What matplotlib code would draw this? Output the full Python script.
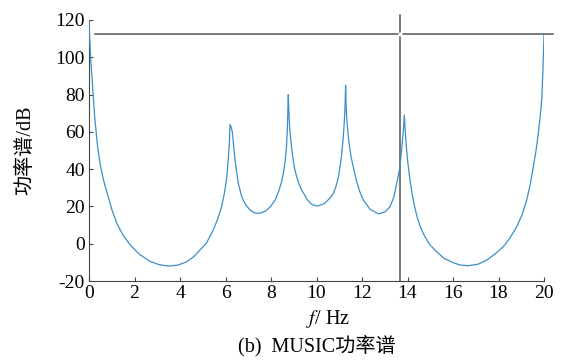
import matplotlib
matplotlib.use("Agg")
import matplotlib.pyplot as plt

# ---- data ----
freq = [0.00, 0.03, 0.07, 0.15, 0.25, 0.37, 0.50, 0.64, 0.78, 1.00, 1.22, 1.50, 1.80, 2.20, 2.68,
        3.10, 3.49, 3.90, 4.29, 4.60, 4.88, 5.17, 5.46, 5.65, 5.83, 5.95, 6.05, 6.12, 6.17, 6.20,
        6.25, 6.30, 6.36, 6.42, 6.47, 6.57, 6.72, 6.88, 7.05, 7.20, 7.37, 7.55, 7.74, 7.95, 8.18,
        8.35, 8.47, 8.56, 8.63, 8.68, 8.72, 8.76, 8.79, 8.82, 8.86, 8.91, 8.97, 9.05, 9.15, 9.25,
        9.35, 9.60, 9.80, 10.05, 10.35, 10.62, 10.74, 10.85, 10.95, 11.03, 11.10, 11.16, 11.21, 11.25, 11.28,
        11.30, 11.33, 11.37, 11.43, 11.52, 11.62, 11.75, 11.90, 12.06, 12.35, 12.72, 13.00, 13.23, 13.40, 13.52,
        13.67, 13.78, 13.82, 13.86, 13.91, 13.96, 14.02, 14.10, 14.20, 14.30, 14.42, 14.55, 14.70, 14.85, 15.00,
        15.28, 15.60, 16.01, 16.30, 16.67, 17.10, 17.48, 17.85, 18.21, 18.50, 18.80, 19.05, 19.24, 19.40, 19.53,
        19.65, 19.75, 19.83, 19.90, 19.95, 20.00]
power = [120, 110, 100, 86, 68, 53, 42, 34, 28, 18.5, 11, 4.5, -0.5, -5.5, -9.5,
         -11.3, -12, -11.5, -9.7, -7, -3.4, 0.5, 7.3, 13, 20, 27, 35, 45, 54, 64,
         62.5, 60, 52, 45, 40, 32, 25, 21, 18.5, 17, 16.3, 16.5, 17.4, 19.5, 23.4,
         28.5, 33.5, 39, 45, 52, 62, 80, 69, 62.5, 57, 51, 45.5, 39.5, 35, 31.5,
         28.8, 23.5, 21, 20.2, 21.6, 24.8, 27, 30.5, 35, 41, 47, 55, 63, 72, 85,
         75, 67, 61, 54, 46.5, 41, 34, 28, 23.4, 18.5, 16, 17, 19.8, 25, 32,
         41.3, 55.6, 61, 69, 59, 50.3, 43, 35, 27, 20.5, 14.5, 9.5, 5.3, 2, -0.8,
         -4.3, -7.8, -10.2, -11.4, -11.8, -11, -8.8, -5.5, -1.6, 3, 9.1, 16, 23.4, 32, 41.3,
         50, 59.2, 68, 77, 92, 112.6]

cursor_x = 13.67
cursor_y = 112.6
xticks = [0, 2, 4, 6, 8, 10, 12, 14, 16, 18, 20]
yticks = [-20, 0, 20, 40, 60, 80, 100, 120]

plt.rcParams['font.family'] = ['Liberation Serif', 'Noto Sans CJK SC']
plt.rcParams['mathtext.fontset'] = 'stix'
plt.rcParams['axes.unicode_minus'] = False

W, H = 567, 360
fig = plt.figure(figsize=(W / 100, H / 100), dpi=100)
ax = fig.add_axes([89 / W, 1 - 281 / H, (544 - 89) / W, (281 - 20) / H])

ax.plot(freq, power, color='#3d8fc8', lw=0.9, zorder=3, solid_joinstyle='round')
ax.plot([0.26, 20.4], [cursor_y, cursor_y], color='#555555', lw=1.1, clip_on=False, zorder=2)
ax.plot([cursor_x, cursor_x], [-20, 122.7], color='#555555', lw=1.1, clip_on=False, zorder=2)
ax.plot([cursor_x], [cursor_y], 'o', ms=3, color='white', mec='none', clip_on=False, zorder=4)

ax.set_xlim(0, 20)
ax.set_ylim(-20, 120)
ax.set_xticks(xticks)
ax.set_yticks(yticks)
ax.tick_params(direction='in', length=3, width=0.8, labelsize=14, pad=3, color='#444444')
ax.spines['top'].set_visible(False)
ax.spines['right'].set_visible(False)
for s in ('left', 'bottom'):
    ax.spines[s].set_color('#444444')
    ax.spines[s].set_linewidth(0.8)

fig.text(26 / W, 1 - 150 / H, '功率谱/dB', rotation=90, ha='center', va='center', fontsize=14.5)
fig.text(328 / W, 1 - 319 / H, r'$f$/ Hz', ha='center', va='center', fontsize=14.5)
fig.text(317 / W, 1 - 346 / H, '(b)  MUSIC功率谱', ha='center', va='center', fontsize=14.5)

fig.savefig('out.png', dpi=100)
